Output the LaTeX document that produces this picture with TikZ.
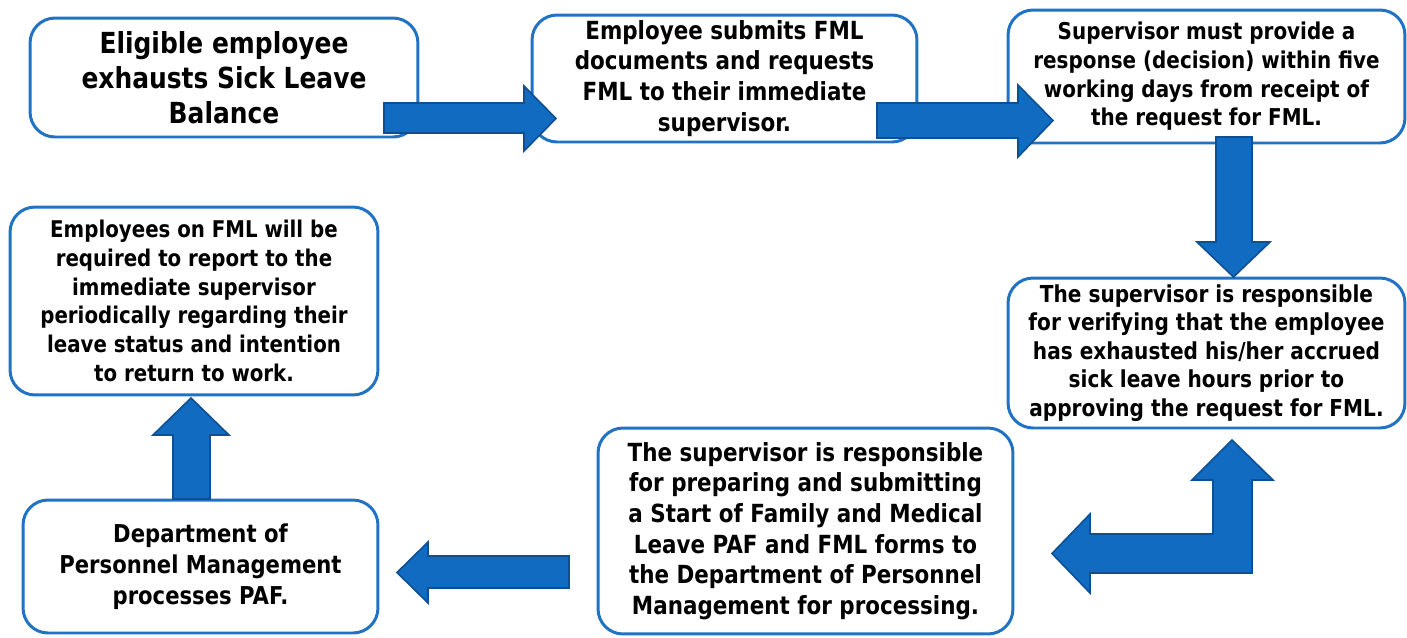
\documentclass[tikz,border=0pt]{standalone}
\usepackage{fontspec}
\setmainfont{DejaVu Sans}[FakeStretch=0.86]

\definecolor{boxblue}{RGB}{31,114,196}
\definecolor{arrowfill}{RGB}{17,108,193}
\definecolor{arrowline}{RGB}{12,79,148}

\newcommand{\fsz}[2]{\fontsize{#1}{#2}\selectfont\bfseries}

\begin{document}
\begin{tikzpicture}[x=0.02cm,y=-0.02cm,
		stepbox/.style={draw=boxblue,line width=1.7pt,fill=white,rounded corners=0.5cm,align=center,inner sep=0pt},
		blockarrow/.style={fill=arrowfill,draw=arrowline,line width=0.9pt,line join=miter}]
			\useasboundingbox (0,0) rectangle (1407,637);

			% the boxes
			\node[stepbox,minimum width=7.76cm,minimum height=2.38cm,font=\fsz{16.5}{19.8}] (eligible) at (224,77.5)
				{Eligible employee\\exhausts Sick Leave\\Balance};
			\node[stepbox,minimum width=7.70cm,minimum height=2.54cm,font=\fsz{14.2}{17.6}] (submits) at (724.5,78.5)
				{Employee submits FML\\documents and requests\\FML to their immediate\\supervisor.};
			\node[stepbox,minimum width=7.94cm,minimum height=2.66cm,font=\fsz{13.2}{16.3}] (response) at (1206.5,76.5)
				{Supervisor must provide a\\response (decision) within five\\working days from receipt of\\the request for FML.};
			\node[stepbox,minimum width=7.94cm,minimum height=3.0cm,font=\fsz{13.3}{16.2}] (verify) at (1206.5,353)
				{The supervisor is responsible\\for verifying that the employee\\has exhausted his/her accrued\\sick leave hours prior to\\approving the request for FML.};
			\node[stepbox,minimum width=8.3cm,minimum height=4.12cm,font=\fsz{14.2}{17.45}] (prepare) at (805.5,531)
				{The supervisor is responsible\\for preparing and submitting\\a Start of Family and Medical\\Leave PAF and FML forms to\\the Department of Personnel\\Management for processing.};
			\node[stepbox,minimum width=7.10cm,minimum height=2.66cm,font=\fsz{14}{17.6}] (dpm) at (200.5,566.5)
				{Department of\\Personnel Management\\processes PAF.};
			\node[stepbox,minimum width=7.36cm,minimum height=3.76cm,font=\fsz{13.1}{16.4}] (report) at (194,301)
				{Employees on FML will be\\required to report to the\\immediate supervisor\\periodically regarding their\\leave status and intention\\to return to work.};

			% the block arrows
			\draw[blockarrow] (384,103) -- (524,103) -- (524,86) -- (556,118.5) -- (524,151) -- (524,133) -- (384,133) -- cycle;
			\draw[blockarrow] (877,103) -- (1018,103) -- (1018,85) -- (1053,120.5) -- (1018,157) -- (1018,138) -- (877,138) -- cycle;
			\draw[blockarrow] (1216,137) -- (1252,137) -- (1252,242) -- (1270,242) -- (1233.5,277) -- (1197,242) -- (1216,242) -- cycle;
			\draw[blockarrow] (1232,440) -- (1273,480) -- (1252,480) -- (1252,573) -- (1090,573) -- (1090,593) -- (1052,553.5)
				-- (1090,514) -- (1090,534) -- (1213,534) -- (1213,480) -- (1192,480) -- cycle;
			\draw[blockarrow] (569,556) -- (428,556) -- (428,542) -- (397,572.5) -- (428,603) -- (428,588) -- (569,588) -- cycle;
			\draw[blockarrow] (173,499) -- (173,435) -- (153,435) -- (191,398) -- (229,435) -- (210,435) -- (210,499) -- cycle;
		\end{tikzpicture}
\end{document}
